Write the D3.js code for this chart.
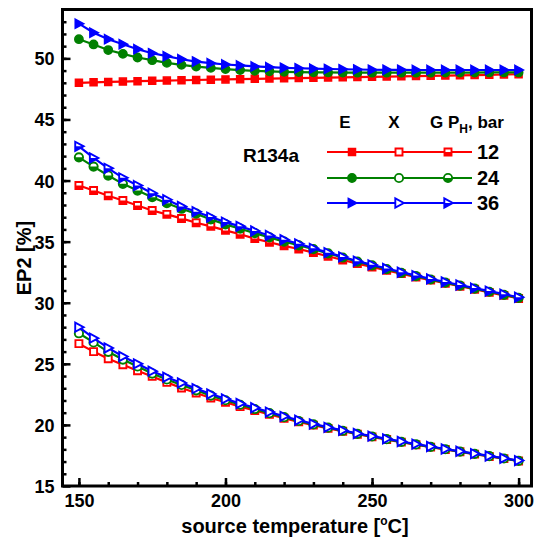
<!DOCTYPE html>
<html>
<head>
<meta charset="utf-8">
<script src="https://cdn.jsdelivr.net/npm/d3@7"></script>
<style>
  html, body { margin: 0; padding: 0; background: #fff; }
  svg { display: block; font-family: "Liberation Sans", Arial, sans-serif; font-weight: bold; }
</style>
</head>
<body>
<svg id="chart" width="543" height="544"></svg>
<script>
// Source temperature, °C
const temps = [150,155,160,165,170,175,180,185,190,195,200,205,210,215,220,225,
               230,235,240,245,250,255,260,265,270,275,280,285,290,295,300];

// Pressure levels P_H, bar
const pressures = ["12", "24", "36"];
const colors = ["#ff0000", "#008000", "#0000ff"];
const shapes = ["square", "circle", "triangle"];

// E group (upper curves), EP2 [%]
const E12 = [48.00,48.04,48.07,48.10,48.13,48.16,48.18,48.21,48.23,48.26,48.28,48.30,48.33,48.35,48.37,48.39,
             48.41,48.43,48.45,48.47,48.49,48.51,48.53,48.55,48.57,48.59,48.61,48.63,48.65,48.68,48.70];
const E24 = [51.57,51.14,50.68,50.37,50.07,49.85,49.63,49.47,49.33,49.22,49.12,49.04,48.98,48.94,48.90,48.88,
             48.86,48.85,48.84,48.83,48.83,48.83,48.83,48.83,48.83,48.84,48.84,48.84,48.85,48.85,48.85];
const E36 = [52.84,52.10,51.57,51.16,50.75,50.42,50.18,49.93,49.74,49.61,49.50,49.42,49.34,49.28,49.23,49.19,
             49.16,49.13,49.11,49.09,49.07,49.06,49.06,49.05,49.05,49.05,49.05,49.05,49.05,49.05,49.05];

// G group (middle curves)
const G12 = [39.60,39.18,38.75,38.37,37.96,37.55,37.23,36.90,36.55,36.25,35.92,35.60,35.25,34.95,34.65,34.40,
             34.10,33.80,33.50,33.20,32.93,32.65,32.38,32.10,31.85,31.60,31.35,31.10,30.85,30.60,30.35];
const G24 = [41.90,41.14,40.41,39.73,39.18,38.64,38.15,37.69,37.29,36.82,36.41,36.06,35.70,35.35,35.00,34.70,
             34.38,34.04,33.70,33.36,33.05,32.75,32.45,32.17,31.90,31.65,31.40,31.15,30.90,30.65,30.40];
const G36 = [42.80,41.85,41.00,40.22,39.59,38.97,38.43,37.88,37.45,37.01,36.60,36.25,35.87,35.50,35.15,34.82,
             34.45,34.10,33.75,33.40,33.10,32.80,32.50,32.22,31.95,31.70,31.45,31.20,30.95,30.70,30.45];

// X group (lower curves)
const X12 = [26.65,26.00,25.42,24.92,24.43,23.97,23.48,23.02,22.61,22.20,21.85,21.50,21.18,20.86,20.55,20.25,
             19.98,19.72,19.48,19.24,19.02,18.80,18.59,18.38,18.18,17.99,17.80,17.61,17.42,17.24,17.05];
const X24 = [27.50,26.75,25.98,25.35,24.78,24.20,23.72,23.27,22.83,22.40,22.02,21.65,21.30,20.96,20.63,20.32,
             20.04,19.77,19.52,19.27,19.05,18.83,18.61,18.40,18.20,18.01,17.82,17.63,17.44,17.25,17.06];
const X36 = [28.00,27.10,26.30,25.60,25.00,24.40,23.90,23.43,22.97,22.53,22.13,21.75,21.40,21.05,20.70,20.38,
             20.08,19.80,19.55,19.30,19.08,18.86,18.64,18.43,18.23,18.03,17.84,17.65,17.46,17.27,17.08];

// Axis tick labels
const xTickLabels = [150, 200, 250, 300];
const yTickLabels = [15, 20, 25, 30, 35, 40, 45, 50];

const groups = [
  { fill: "full", series: [E12, E24, E36] },
  { fill: "half", series: [G12, G24, G36] },
  { fill: "none", series: [X12, X24, X36] }
];

const svg = d3.select("#chart");
const mLeft = 62.5, mRight = 531.5, mTop = 9.5, mBottom = 486;

const x = d3.scaleLinear().domain([144.4, 304.4]).range([mLeft, mRight]);
const y = d3.scaleLinear().domain([15, 54]).range([mBottom, mTop]);

// Clip region for half-filled markers (local marker coordinates)
svg.append("defs").append("clipPath").attr("id", "lowerHalf")
  .append("rect").attr("x", -10).attr("y", 0).attr("width", 20).attr("height", 10);

function markerPath(shape) {
  if (shape === "square") return "M-3.5,-3.5H3.5V3.5H-3.5Z";
  if (shape === "circle") return d3.symbol(d3.symbolCircle, 54)();
  return "M-3.7,-4.6L4.8,0L-3.7,4.6Z";
}

function drawMarker(g, cx, cy, shape, color, fill) {
  const m = g.append("g").attr("transform", `translate(${cx},${cy})`);
  const d = markerPath(shape);
  if (fill === "full") {
    m.append("path").attr("d", d).attr("fill", color).attr("stroke", color).attr("stroke-width", 1.5);
  } else {
    m.append("path").attr("d", d).attr("fill", "#fff").attr("stroke", color).attr("stroke-width", 1.9);
    if (fill === "half") {
      m.append("path").attr("d", d).attr("fill", color).attr("clip-path", "url(#lowerHalf)");
    }
  }
}

const plot = svg.append("g");
const line = d3.line().x((d, i) => x(temps[i])).y(d => y(d));

groups.forEach(grp => {
  grp.series.forEach((vals, k) => {
    const g = plot.append("g");
    g.append("path").datum(vals).attr("d", line)
      .attr("fill", "none").attr("stroke", colors[k]).attr("stroke-width", 2.2);
    vals.forEach((v, i) => drawMarker(g, x(temps[i]), y(v), shapes[k], colors[k], grp.fill));
  });
});

// Axes with inward ticks
const xMajor = d3.axisBottom(x).tickValues(xTickLabels).tickSize(-8).tickPadding(8).tickFormat(d3.format("d"));
const xMinor = d3.axisBottom(x).tickValues(d3.range(150, 301, 10)).tickSize(-4).tickFormat("");
const yMajor = d3.axisLeft(y).tickValues(yTickLabels).tickSize(-8).tickPadding(8).tickFormat(d3.format("d"));
const yMinor = d3.axisLeft(y).tickValues(d3.range(16, 54, 1)).tickSize(-4).tickFormat("");

function styleAxis(g) {
  g.select(".domain").remove();
  g.selectAll(".tick line").attr("stroke", "#000").attr("stroke-width", 2.5);
  g.selectAll(".tick text").attr("fill", "#000").style("font-size", "18px")
    .style("font-weight", "bold").style("font-family", "'Liberation Sans', Arial, sans-serif");
}

svg.append("g").attr("transform", `translate(0,${mBottom})`).call(xMinor).call(styleAxis);
svg.append("g").attr("transform", `translate(0,${mBottom})`).call(xMajor).call(styleAxis);
svg.append("g").attr("transform", `translate(${mLeft},0)`).call(yMinor).call(styleAxis);
svg.append("g").attr("transform", `translate(${mLeft},0)`).call(yMajor).call(styleAxis)
  .selectAll(".tick text").attr("dy", "0.36em");

// Frame
svg.append("rect").attr("x", mLeft).attr("y", mTop).attr("width", mRight - mLeft).attr("height", mBottom - mTop)
  .attr("fill", "none").attr("stroke", "#000").attr("stroke-width", 3);

// Axis titles
const xt = svg.append("text").attr("x", 295).attr("y", 533)
  .attr("text-anchor", "middle").style("font-size", "20px").text("source temperature [");
xt.append("tspan").attr("dy", -8).style("font-size", "12px").text("o");
xt.append("tspan").attr("dy", 8).text("C]");

svg.append("text").attr("transform", "translate(31,258) rotate(-90)")
  .attr("text-anchor", "middle").style("font-size", "20px").text("EP2 [%]");

// Refrigerant label
svg.append("text").attr("x", 243).attr("y", 162).style("font-size", "19px").text("R134a");

// Legend
const legendRows = [152, 178, 203];
const legendMarks = [352, 399, 448];
const legendFills = ["full", "none", "half"];
const header = svg.append("g").style("font-size", "17px");
header.append("text").attr("x", 345).attr("y", 128).attr("text-anchor", "middle").text("E");
header.append("text").attr("x", 394).attr("y", 128).attr("text-anchor", "middle").text("X");
const gh = header.append("text").attr("x", 430).attr("y", 128).text("G P");
gh.append("tspan").attr("dy", 5).style("font-size", "12px").text("H");
gh.append("tspan").attr("dy", -5).text(", bar");

pressures.forEach((p, k) => {
  const ly = legendRows[k];
  const g = svg.append("g");
  g.append("line").attr("x1", 327).attr("x2", 472).attr("y1", ly).attr("y2", ly)
    .attr("stroke", colors[k]).attr("stroke-width", 2.2);
  legendMarks.forEach((mx, j) => drawMarker(g, mx, ly, shapes[k], colors[k], legendFills[j]));
  g.append("text").attr("x", 477).attr("y", ly + 7).style("font-size", "20px").text(p);
});
</script>
</body>
</html>
